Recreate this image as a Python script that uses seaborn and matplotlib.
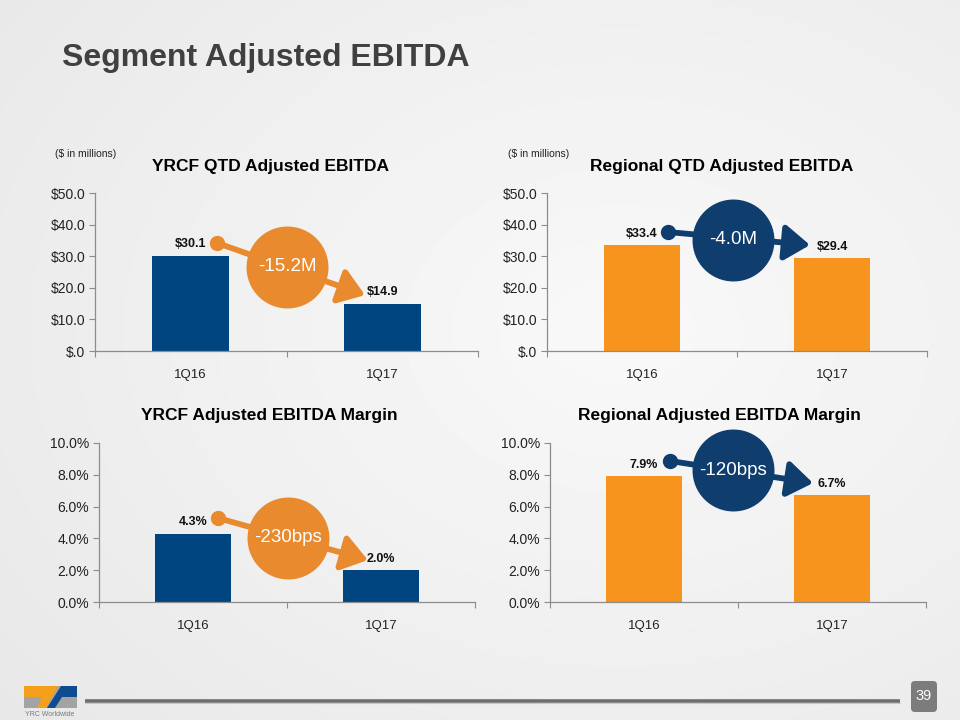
"""Segment Adjusted EBITDA slide: four small bar panels with change callouts."""

import numpy as np
import pandas as pd
import matplotlib
matplotlib.use("Agg")
import matplotlib.pyplot as plt
from matplotlib.patches import Polygon, FancyBboxPatch
from matplotlib.ticker import FuncFormatter
import seaborn as sns

periods = ["1Q16", "1Q17"]
yrcf_ebitda = [30.1, 14.9]
regional_ebitda = [33.4, 29.4]
yrcf_margin = [4.3, 2.0]
regional_margin = [7.9, 6.7]

panel_titles = ["YRCF QTD Adjusted EBITDA", "Regional QTD Adjusted EBITDA",
                "YRCF Adjusted EBITDA Margin", "Regional Adjusted EBITDA Margin"]
change_labels = ["-15.2M", "-4.0M", "-230bps", "-120bps"]

NAVY = "#00457f"
ORANGE = "#f7941d"
CALLOUT_ORANGE = "#e88a2d"
CALLOUT_NAVY = "#0f3d6e"

sns.set_theme(style="white")
plt.rcParams["font.family"] = ["Liberation Sans", "DejaVu Sans"]


def money_fmt(v, _):
    s = f"{v:.1f}"
    if s.startswith("0"):
        s = s[1:]
    return "$" + s


def pct_fmt(v, _):
    return f"{v:.1f}%"


def draw_panel(ax, values, bar_color, ymax, fmt, label_fmt):
    df = pd.DataFrame({"period": periods, "value": values})
    sns.barplot(data=df, x="period", y="value", color=bar_color, width=0.4,
                saturation=1, linewidth=0, ax=ax, zorder=2)
    ax.set_xlim(-0.5, 1.5)
    ax.set_ylim(0, ymax)
    ax.set_yticks(np.linspace(0, ymax, 6))
    ax.yaxis.set_major_formatter(FuncFormatter(fmt))
    ax.set_xlabel("")
    ax.set_ylabel("")
    ax.set_facecolor("none")
    for side in ["top", "right"]:
        ax.spines[side].set_visible(False)
    for side in ["left", "bottom"]:
        ax.spines[side].set_color("#8c8c8c")
        ax.spines[side].set_linewidth(0.9)
    ax.tick_params(axis="y", which="major", left=True, length=4, width=0.8,
                   color="#8c8c8c", labelsize=10, pad=3)
    ax.tick_params(axis="x", which="major", bottom=False, labelsize=9.5, pad=7)
    ax.set_xticks([-0.5, 0.5, 1.5], minor=True)
    ax.tick_params(axis="x", which="minor", bottom=True, length=4, width=0.8,
                   color="#8c8c8c")
    for lbl in ax.get_xticklabels() + ax.get_yticklabels():
        lbl.set_color("#222222")
    for i, v in enumerate(values):
        ax.annotate(label_fmt(v), (i, v), xytext=(0, 4), textcoords="offset points",
                    ha="center", va="bottom", fontsize=9, fontweight="bold",
                    color="#111111")


def draw_callout(ax, ymax, dot, center, tip, color, text):
    dot_xy = (dot[0], dot[1] * ymax)
    tip_xy = (tip[0], tip[1] * ymax)
    ctr_xy = (center[0], center[1] * ymax)
    ax.annotate("", xy=tip_xy, xytext=dot_xy, annotation_clip=False,
                arrowprops=dict(arrowstyle="-|>,head_length=0.85,head_width=0.6",
                                lw=4.2, color=color, mutation_scale=18,
                                shrinkA=0, shrinkB=0), zorder=4)
    ax.plot(*dot_xy, "o", ms=10, color=color, clip_on=False, zorder=5)
    ax.plot(*ctr_xy, "o", ms=58, color=color, mec=color, clip_on=False, zorder=6)
    ax.text(*ctr_xy, text, ha="center", va="center", color="white",
            fontsize=13.5, zorder=7)


fig = plt.figure(figsize=(9.6, 7.2), dpi=100)

# slide background
bg = fig.add_axes([0, 0, 1, 1], zorder=-10)
yy, xx = np.mgrid[0:720, 0:960]
dist = np.sqrt(((xx - 620) / 960.0) ** 2 + ((yy - 330) / 720.0) ** 2)
bg.imshow(0.975 - 0.08 * dist, cmap="gray", vmin=0, vmax=1, aspect="auto",
          extent=[0, 960, 720, 0], interpolation="bilinear")
bg.set_xlim(0, 960)
bg.set_ylim(720, 0)
bg.axis("off")

fig.text(62 / 960, 1 - 58 / 720, "Segment Adjusted EBITDA", fontsize=23,
         fontweight="bold", color="#404040", ha="left", va="center")

ax_tl = fig.add_axes([95 / 960, 1 - 351 / 720, 383 / 960, 158 / 720])
ax_tr = fig.add_axes([547 / 960, 1 - 351 / 720, 380 / 960, 158 / 720])
ax_bl = fig.add_axes([99 / 960, 1 - 602 / 720, 376 / 960, 159 / 720])
ax_br = fig.add_axes([550 / 960, 1 - 602 / 720, 376 / 960, 159 / 720])

draw_panel(ax_tl, yrcf_ebitda, NAVY, 50, money_fmt, lambda v: f"${v:.1f}")
draw_panel(ax_tr, regional_ebitda, ORANGE, 50, money_fmt, lambda v: f"${v:.1f}")
draw_panel(ax_bl, yrcf_margin, NAVY, 10, pct_fmt, lambda v: f"{v:.1f}%")
draw_panel(ax_br, regional_margin, ORANGE, 10, pct_fmt, lambda v: f"{v:.1f}%")

draw_callout(ax_tl, 50, (0.137, 0.684), (0.503, 0.532), (0.91, 0.354),
             CALLOUT_ORANGE, change_labels[0])
draw_callout(ax_tr, 50, (0.137, 0.753), (0.479, 0.703), (0.884, 0.671),
             CALLOUT_NAVY, change_labels[1])
draw_callout(ax_bl, 10, (0.133, 0.528), (0.505, 0.403), (0.93, 0.264),
             CALLOUT_ORANGE, change_labels[2])
draw_callout(ax_br, 10, (0.138, 0.887), (0.473, 0.830), (0.899, 0.748),
             CALLOUT_NAVY, change_labels[3])

# panel titles
title_pos = [(270, 166), (722, 166), (269, 416), (719, 416)]
for (tx, ty), title in zip(title_pos, panel_titles):
    fig.text(tx / 960, 1 - ty / 720, title, fontsize=12.5, fontweight="bold",
             color="black", ha="center", va="center")
for tx in [55, 508]:
    fig.text(tx / 960, 1 - 154 / 720, "($ in millions)", fontsize=7.5,
             color="#222222", ha="left", va="center")

# footer: logo, rule, page number
ov = fig.add_axes([0, 0, 1, 1], zorder=20)
ov.set_xlim(0, 960)
ov.set_ylim(720, 0)
ov.axis("off")
ov.plot([85, 900], [701, 701], color="#6e6e6e", lw=2.6, solid_capstyle="butt")
ov.plot([85, 900], [703, 703], color="#c8c8c8", lw=0.8)
ov.add_patch(FancyBboxPatch((911, 681), 26, 31, boxstyle="round,pad=0,rounding_size=4",
                            fc="#7c7c7c", ec="none"))
ov.text(924, 696.5, "39", color="white", fontsize=10.5, ha="center", va="center")
ov.add_patch(Polygon([(24, 686), (77, 686), (77, 708), (24, 708)], fc="#a3a3a3", ec="none"))
ov.add_patch(Polygon([(24, 686), (58, 686), (46, 708), (37, 708), (42, 697), (24, 697)],
                     fc="#f5a01a", ec="none"))
ov.add_patch(Polygon([(61, 686), (77, 686), (77, 697), (62, 697), (55, 708), (47, 708)],
                     fc="#0f4c8f", ec="none"))
ov.text(25, 714, "YRC Worldwide", fontsize=5, color="#7a7a7a", ha="left", va="center")

fig.savefig("out.png", dpi=100)
